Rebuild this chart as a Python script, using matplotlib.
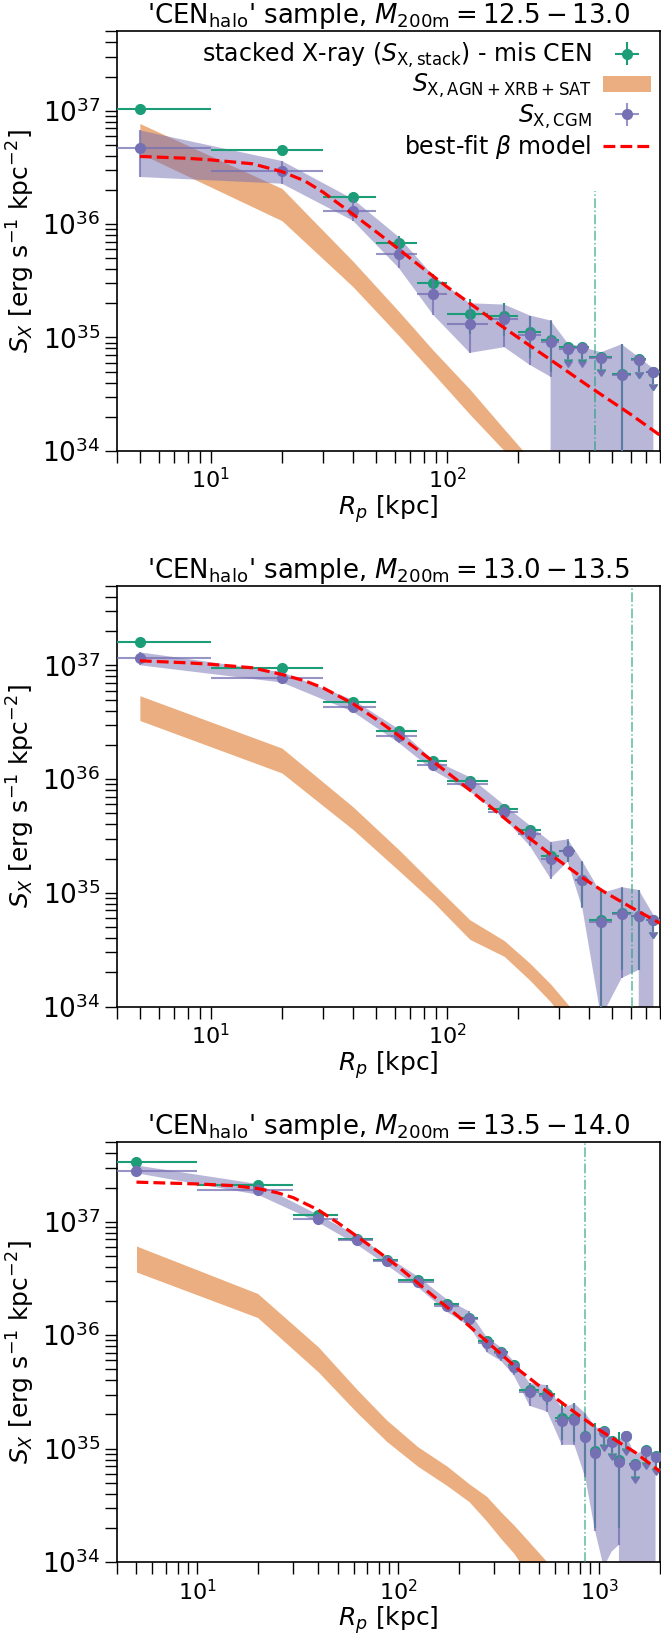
import numpy as np
import matplotlib
matplotlib.use('Agg')
import matplotlib.pyplot as plt

GREEN = '#1b9e77'
PURPLE = '#7570b3'
ORANGE = '#d95f02'

# ---------------- bins ----------------
edges_a = [0, 10, 30, 50, 75, 100, 150, 200, 250, 300, 350, 400, 500, 600, 700, 800]
centers_a = [5, 20, 40, 62.5, 87.5, 125, 175, 225, 275, 325, 375, 450, 550, 650, 750]
edges_b = edges_a + [900, 1000, 1100, 1200, 1300, 1400, 1600, 1800, 2000]
centers_b = centers_a + [850, 950, 1050, 1150, 1250, 1350, 1500, 1700, 1900]

titles = ["12.5-13.0", "13.0-13.5", "13.5-14.0"]
vline_x = [425, 610, 850]
vline_top = [0.62, 1.0, 1.0]
xlims = [(4, 800), (4, 800), (4, 2000)]

# ---------------- panel 1 ----------------
p1_stack = [1.04e37, 4.5e36, 1.72e36, 6.8e35, 3.05e35, 1.62e35, 1.53e35, 1.11e35, 9.5e34,
            8.2e34, 8.2e34, 6.7e34, 4.8e34, 6.4e34, 5.0e34]
p1_stack_err = [2e35, 1.5e35, 1.4e35, 1.1e35, 6e34, 5.5e34, 5e34, 4.5e34, 4.5e34,
                1.6e34, 1.6e34, 1.3e34, 4e34, 1.3e34, 1e34]
p1_cgm = [4.64e36, 2.92e36, 1.31e36, 5.41e35, 2.4e35, 1.32e35, 1.44e35, 1.06e35, 9.2e34,
          7.95e34, 8.0e34, 6.6e34, 4.7e34, 6.3e34, 4.95e34]
p1_band_hi = [6.7e36, 3.6e36, 1.66e36, 7.7e35, 3.5e35, 2.0e35, 1.95e35, 1.56e35, 1.41e35,
              8.9e34, 8.2e34, 7.4e34, 8.7e34, 6.7e34, 5.3e34]
p1_band_lo = [2.6e36, 2.27e36, 1.07e36, 4.1e35, 1.58e35, 7.3e34, 8.2e34, 5.7e34, 4.5e34,
              0, 0, 0, 0, 0, 0]
p1_ul = [0, 0, 0, 0, 0, 0, 0, 0, 0, 1, 1, 1, 0, 1, 1]
p1_orange_hi = [7.7e36, 2.06e36, 4.7e35, 1.7e35, 7.7e34, 3.5e34, 1.55e34, 8.5e33, 5e33,
                3e33, 2e33, 1.2e33, 7e32, 4e32, 2.5e32]
p1_orange_lo = [4.2e36, 1.07e36, 2.8e35, 1.04e35, 4.8e34, 2.1e34, 1.0e34, 5.5e33, 3.2e33,
                2e33, 1.3e33, 8e32, 4.5e32, 2.6e32, 1.6e32]
p1_model_x = [5, 8, 10, 15, 20, 25, 30, 40, 50, 62.5, 80, 100, 125, 150, 200, 300, 400, 600, 800]
p1_model_y = [3.95e36, 3.8e36, 3.68e36, 3.4e36, 2.9e36, 2.4e36, 1.9e36, 1.22e36, 8.6e35,
              6.0e35, 4.0e35, 2.8e35, 2.0e35, 1.52e35, 1.0e35, 5.6e34, 3.7e34, 2.1e34, 1.37e34]

# ---------------- panel 2 ----------------
p2_stack = [1.6e37, 9.5e36, 4.8e36, 2.62e36, 1.44e36, 9.7e35, 5.4e35, 3.56e35, 2.11e35,
            2.35e35, 1.3e35, 5.8e34, 6.6e34, 6.3e34, 5.8e34]
p2_stack_err = [3e35, 2.5e35, 2e35, 1.2e35, 7e34, 5e34, 3e34, 2.5e34, 5e34,
                5e34, 5.5e34, 5e34, 4.5e34, 4.2e34, 1.2e34]
p2_cgm = [1.17e37, 7.8e36, 4.33e36, 2.39e36, 1.32e36, 9.0e35, 5.1e35, 3.3e35, 1.98e35,
          2.31e35, 1.3e35, 5.5e34, 6.5e34, 6.3e34, 5.8e34]
p2_band_hi = [1.3e37, 8.7e36, 4.97e36, 2.75e36, 1.47e36, 1.04e36, 5.9e35, 3.9e35, 2.8e35,
              2.95e35, 1.89e35, 9.9e34, 1.12e35, 1.06e35, 6.4e34]
p2_band_lo = [1.0e37, 7.05e36, 3.9e36, 2.08e36, 1.19e36, 7.8e35, 4.5e35, 2.57e35, 1.33e35,
              1.88e35, 7.3e34, 8e33, 1.78e34, 2.1e34, 0]
p2_ul = [0, 0, 0, 0, 0, 0, 0, 0, 0, 0, 0, 0, 0, 0, 1]
p2_orange_hi = [5.4e36, 1.87e36, 5.7e35, 2.4e35, 1.2e35, 5.8e34, 3.8e34, 2.4e34, 1.58e34,
                1.05e34, 7e33, 4.5e33, 3e33, 2e33, 1.4e33]
p2_orange_lo = [3.27e36, 1.13e36, 3.6e35, 1.57e35, 8.3e34, 3.9e34, 2.76e34, 1.7e34, 1.1e34,
                7e33, 4.7e33, 3e33, 2e33, 1.3e33, 9e32]
p2_model_x = [5, 8, 10, 15, 20, 25, 30, 40, 50, 62.5, 80, 100, 125, 150, 200, 275, 375, 460, 600, 800]
p2_model_y = [1.095e37, 1.05e37, 1.02e37, 9.5e36, 8.3e36, 7.3e36, 6.3e36, 4.6e36, 3.37e36,
              2.41e36, 1.64e36, 1.15e36, 8.0e35, 5.9e35, 3.62e35, 2.17e35, 1.36e35, 1.03e35,
              7.5e34, 5.4e34]

# ---------------- panel 3 ----------------
p3_stack = [3.37e37, 2.1e37, 1.14e37, 7.1e36, 4.62e36, 3.04e36, 1.88e36, 1.43e36, 8.8e35,
            7.1e35, 5.5e35, 3.3e35, 3.04e35, 1.85e35, 1.85e35, 1.3e35, 9.5e34, 1.42e35,
            1.18e35, 8.0e34, 1.3e35, 7.4e34, 9.7e34, 8.7e34]
p3_stack_err = [1e36, 6e35, 3e35, 2e35, 1.3e35, 9e34, 6e34, 5e34, 3.5e34, 3e34, 3e34, 5e34,
                6e34, 6.5e34, 7e34, 7e34, 7.5e34, 2.8e34, 2.3e34, 6e34, 2.6e34, 1.5e34, 2e34, 1.7e34]
p3_cgm = [2.8e37, 1.89e37, 1.06e37, 6.87e36, 4.52e36, 2.95e36, 1.81e36, 1.38e36, 8.47e35,
          6.92e35, 5.19e35, 3.15e35, 2.93e35, 1.77e35, 1.79e35, 1.26e35, 9.2e34, 1.39e35,
          1.15e35, 7.7e34, 1.28e35, 7.2e34, 9.5e34, 8.5e34]
p3_band_hi = [3.13e37, 2.15e37, 1.15e37, 7.54e36, 4.97e36, 3.29e36, 2.06e36, 1.62e36, 9.64e35,
              7.77e35, 5.9e35, 3.77e35, 3.63e35, 2.27e35, 2.5e35, 2.05e35, 1.56e35, 1.45e35,
              1.24e35, 1.2e35, 1.35e35, 8.8e34, 1.0e35, 9.1e34]
p3_band_lo = [2.67e37, 1.73e37, 9.85e36, 6.25e36, 4.15e36, 2.65e36, 1.6e36, 1.2e36, 7.07e35,
              5.9e35, 4.44e35, 2.38e35, 2.12e35, 1.08e35, 1.08e35, 5.6e34, 1.9e34, 9e33,
              1.24e34, 1.42e34, 0, 0, 0, 0]
p3_ul = [0, 0, 0, 0, 0, 0, 0, 0, 0, 0, 0, 0, 0, 0, 0, 0, 0, 1, 1, 0, 1, 1, 1, 1]
p3_orange_hi = [6.1e36, 2.33e36, 7.9e35, 3.31e35, 1.79e35, 1.04e35, 7.0e34, 4.9e34, 3.8e34,
                2.75e34, 2.13e34, 1.49e34, 1.0e34, 6.7e33, 4.5e33, 3e33, 2e33, 1.4e33, 1e33,
                7e32, 5e32, 3.5e32, 2.5e32, 1.8e32]
p3_orange_lo = [3.6e36, 1.43e36, 4.75e35, 2.07e35, 1.16e35, 7.0e34, 4.72e34, 3.41e34, 2.3e34,
                1.6e34, 1.2e34, 7.5e33, 5e33, 3.2e33, 2.2e33, 1.5e33, 1e33, 7e32, 5e32, 3.5e32,
                2.5e32, 1.8e32, 1.3e32, 9e31]
p3_model_x = [5, 10, 15, 20, 25, 30, 40, 50, 62.5, 80, 100, 150, 200, 300, 400, 500, 700,
              1000, 1500, 2000]
p3_model_y = [2.23e37, 2.15e37, 2.08e37, 1.96e37, 1.8e37, 1.63e37, 1.27e37, 9.8e36, 7.4e36,
              5.4e36, 4.0e36, 2.2e36, 1.45e36, 7.7e35, 4.9e35, 3.6e35, 2.3e35, 1.46e35,
              9.3e34, 6.3e34]

panels = [
    dict(centers=centers_a, edges=edges_a, stack=p1_stack, stack_err=p1_stack_err, cgm=p1_cgm,
         band_hi=p1_band_hi, band_lo=p1_band_lo, ul=p1_ul, or_hi=p1_orange_hi, or_lo=p1_orange_lo,
         mx=p1_model_x, my=p1_model_y),
    dict(centers=centers_a, edges=edges_a, stack=p2_stack, stack_err=p2_stack_err, cgm=p2_cgm,
         band_hi=p2_band_hi, band_lo=p2_band_lo, ul=p2_ul, or_hi=p2_orange_hi, or_lo=p2_orange_lo,
         mx=p2_model_x, my=p2_model_y),
    dict(centers=centers_b, edges=edges_b, stack=p3_stack, stack_err=p3_stack_err, cgm=p3_cgm,
         band_hi=p3_band_hi, band_lo=p3_band_lo, ul=p3_ul, or_hi=p3_orange_hi, or_lo=p3_orange_lo,
         mx=p3_model_x, my=p3_model_y),
]

UL_LEN = 0.22
PURPLE_E = (117 / 255, 112 / 255, 179 / 255, 0.75)

LAB_STACK = r'stacked X-ray ($S_{\rm X, stack}$) - mis CEN'
LAB_AGN = r'$S_{\rm X, AGN+XRB+SAT}$'
LAB_CGM = r'$S_{\rm X, CGM}$'
LAB_BETA = r'best-fit $\beta$ model'

fig = plt.figure(figsize=(6.61, 16.38), dpi=100)
rects = [(0.177, 0.7248, 0.8215, 0.256),
         (0.177, 0.3855, 0.8215, 0.2569),
         (0.177, 0.0463, 0.8215, 0.2563)]

for i, (p, r) in enumerate(zip(panels, rects)):
    ax = fig.add_axes(r)
    x = np.array(p['centers'], float)
    e = np.array(p['edges'], float)
    xerr = np.vstack([x - e[:-1], e[1:] - x])
    ul = np.array(p['ul'], bool)
    st = np.array(p['stack'], float)
    ste = np.array(p['stack_err'], float)
    cg = np.array(p['cgm'], float)
    bh = np.array(p['band_hi'], float)
    bl = np.array(p['band_lo'], float)

    ax.fill_between(x, p['or_lo'], p['or_hi'], color=ORANGE, alpha=0.5, lw=0,
                    label=LAB_AGN, zorder=1)
    ax.fill_between(x, bl, bh, color=PURPLE, alpha=0.5, lw=0, zorder=2)
    ax.axvline(vline_x[i], ymax=vline_top[i], color=GREEN, alpha=0.7, lw=1.1,
               ls='-.', zorder=3)

    nl = ~ul
    ax.errorbar(x[nl], st[nl], xerr=xerr[:, nl], yerr=ste[nl], fmt='o', color=GREEN,
                ms=7, elinewidth=1.5, capsize=0, zorder=4, label=LAB_STACK)
    if ul.any():
        ax.errorbar(x[ul], st[ul], xerr=xerr[:, ul], yerr=UL_LEN * st[ul], uplims=True,
                    fmt='o', color=GREEN, ms=7, elinewidth=1.5, capsize=0, zorder=4)
    yerr_c = np.vstack([cg - bl, bh - cg])
    ax.errorbar(x[nl], cg[nl], xerr=xerr[:, nl], yerr=yerr_c[:, nl], fmt='o',
                color=PURPLE, ecolor=PURPLE_E, ms=7, elinewidth=1.5, capsize=0,
                zorder=5, label=LAB_CGM)
    if ul.any():
        ax.errorbar(x[ul], cg[ul], xerr=xerr[:, ul], yerr=UL_LEN * cg[ul], uplims=True,
                    fmt='o', color=PURPLE, ecolor=PURPLE_E, ms=7, elinewidth=1.5,
                    capsize=0, zorder=5)
    ax.plot(p['mx'], p['my'], ls='--', color='red', lw=2.3, zorder=6, label=LAB_BETA)

    ax.set_xscale('log')
    ax.set_yscale('log')
    ax.set_xlim(*xlims[i])
    ax.set_ylim(1e34, 5e37)
    ax.set_title(r"'CEN$_{\rm halo}$' sample, $M_{\rm 200m}=$" + "$" + titles[i] + "$",
                 fontsize=18.7, pad=4)
    ax.set_xlabel(r'$R_p$ [kpc]', fontsize=18, labelpad=0.5)
    ax.set_ylabel(r'$S_X$ [erg s$^{-1}$ kpc$^{-2}$]', fontsize=18)
    ax.tick_params(axis='both', which='both', direction='out', length=8.5, width=1.0)
    ax.tick_params(axis='y', which='major', labelsize=19)
    ax.tick_params(axis='x', which='major', labelsize=16)
    ax.yaxis.set_minor_formatter(matplotlib.ticker.NullFormatter())
    ax.xaxis.set_minor_formatter(matplotlib.ticker.NullFormatter())
    for s in ax.spines.values():
        s.set_linewidth(1.2)

    if i == 0:
        handles, labels = ax.get_legend_handles_labels()
        order = [labels.index(l) for l in [LAB_STACK, LAB_AGN, LAB_CGM, LAB_BETA]]
        ax.legend([handles[k] for k in order], [labels[k] for k in order],
                  loc='upper right', fontsize=17, frameon=False, markerfirst=False,
                  borderaxespad=0.1, borderpad=0.3, labelspacing=0.1, handletextpad=0.5,
                  handlelength=2.0)

fig.savefig('out.png', dpi=100)
